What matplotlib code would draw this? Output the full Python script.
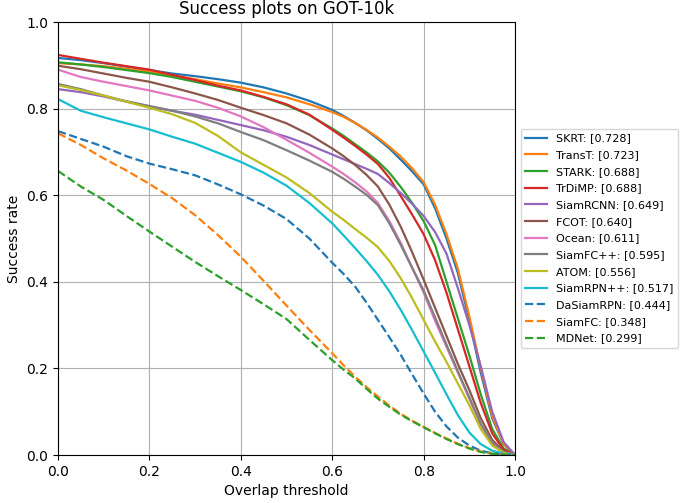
import numpy as np
import matplotlib
matplotlib.use("Agg")
import matplotlib.pyplot as plt

# ---- overlap thresholds (finer steps in the steep tail) ----
thresholds = [0.0, 0.05, 0.1, 0.15, 0.2, 0.25, 0.3, 0.35, 0.4, 0.45, 0.5, 0.55,
              0.6, 0.625, 0.65, 0.675, 0.7, 0.725, 0.75, 0.775, 0.8, 0.825, 0.85,
              0.875, 0.9, 0.925, 0.95, 0.975, 1.0]

# ---- success rates ----
skrt = [0.917, 0.912, 0.905, 0.897, 0.889, 0.881, 0.875, 0.868, 0.860, 0.849, 0.835, 0.818,
        0.797, 0.783, 0.767, 0.750, 0.730, 0.708, 0.682, 0.655, 0.625, 0.570, 0.500,
        0.420, 0.310, 0.190, 0.085, 0.025, 0.0]
transt = [0.905, 0.902, 0.898, 0.892, 0.886, 0.877, 0.868, 0.858, 0.849, 0.838, 0.826, 0.810,
          0.792, 0.781, 0.767, 0.751, 0.733, 0.712, 0.689, 0.662, 0.630, 0.578, 0.510,
          0.430, 0.320, 0.200, 0.090, 0.025, 0.0]
stark = [0.907, 0.902, 0.896, 0.889, 0.882, 0.873, 0.862, 0.851, 0.840, 0.826, 0.808, 0.785,
         0.754, 0.737, 0.718, 0.699, 0.678, 0.652, 0.619, 0.582, 0.540, 0.485, 0.400,
         0.315, 0.230, 0.140, 0.060, 0.015, 0.0]
trdimp = [0.924, 0.915, 0.906, 0.898, 0.890, 0.878, 0.866, 0.853, 0.842, 0.827, 0.810, 0.786,
          0.751, 0.733, 0.714, 0.694, 0.672, 0.640, 0.598, 0.555, 0.510, 0.450, 0.375,
          0.290, 0.205, 0.120, 0.050, 0.012, 0.0]
siamrcnn = [0.845, 0.838, 0.828, 0.816, 0.805, 0.795, 0.786, 0.774, 0.762, 0.750, 0.735, 0.716,
            0.694, 0.683, 0.672, 0.661, 0.649, 0.628, 0.605, 0.580, 0.552, 0.515, 0.465,
            0.385, 0.300, 0.205, 0.100, 0.030, 0.0]
fcot = [0.899, 0.891, 0.881, 0.871, 0.862, 0.849, 0.835, 0.820, 0.802, 0.785, 0.766, 0.740,
        0.708, 0.690, 0.670, 0.647, 0.620, 0.578, 0.527, 0.468, 0.405, 0.340, 0.275,
        0.210, 0.150, 0.085, 0.035, 0.008, 0.0]
ocean = [0.890, 0.873, 0.862, 0.852, 0.842, 0.830, 0.818, 0.802, 0.782, 0.757, 0.728, 0.698,
         0.666, 0.649, 0.630, 0.609, 0.582, 0.540, 0.490, 0.432, 0.375, 0.310, 0.250,
         0.190, 0.130, 0.070, 0.028, 0.006, 0.0]
siamfcpp = [0.857, 0.845, 0.830, 0.817, 0.806, 0.795, 0.782, 0.766, 0.746, 0.727, 0.704, 0.680,
            0.654, 0.638, 0.620, 0.601, 0.577, 0.535, 0.485, 0.432, 0.380, 0.318, 0.255,
            0.193, 0.133, 0.072, 0.028, 0.006, 0.0]
atom = [0.854, 0.843, 0.830, 0.816, 0.802, 0.787, 0.767, 0.737, 0.699, 0.670, 0.641, 0.605,
        0.562, 0.543, 0.522, 0.502, 0.480, 0.448, 0.408, 0.362, 0.312, 0.262, 0.215,
        0.165, 0.115, 0.060, 0.022, 0.005, 0.0]
siamrpnpp = [0.822, 0.795, 0.780, 0.766, 0.752, 0.735, 0.719, 0.698, 0.677, 0.652, 0.622, 0.582,
             0.535, 0.507, 0.478, 0.448, 0.416, 0.378, 0.335, 0.288, 0.239, 0.190, 0.140,
             0.092, 0.052, 0.025, 0.010, 0.003, 0.0]
dasiamrpn = [0.748, 0.730, 0.712, 0.690, 0.673, 0.660, 0.646, 0.625, 0.602, 0.576, 0.545, 0.500,
             0.444, 0.418, 0.389, 0.352, 0.312, 0.272, 0.231, 0.186, 0.142, 0.100, 0.066,
             0.040, 0.022, 0.010, 0.004, 0.001, 0.0]
siamfc = [0.743, 0.716, 0.685, 0.657, 0.626, 0.593, 0.554, 0.508, 0.458, 0.402, 0.345, 0.289,
          0.235, 0.207, 0.181, 0.157, 0.135, 0.114, 0.095, 0.079, 0.065, 0.051, 0.038,
          0.026, 0.016, 0.008, 0.003, 0.001, 0.0]
mdnet = [0.656, 0.620, 0.589, 0.552, 0.516, 0.481, 0.446, 0.413, 0.381, 0.348, 0.314, 0.266,
         0.219, 0.197, 0.177, 0.153, 0.130, 0.111, 0.093, 0.078, 0.064, 0.050, 0.037,
         0.025, 0.015, 0.007, 0.003, 0.001, 0.0]

names = ["SKRT", "TransT", "STARK", "TrDiMP", "SiamRCNN", "FCOT", "Ocean",
         "SiamFC++", "ATOM", "SiamRPN++", "DaSiamRPN", "SiamFC", "MDNet"]
aucs = [0.728, 0.723, 0.688, 0.688, 0.649, 0.640, 0.611, 0.595, 0.556, 0.517,
        0.444, 0.348, 0.299]
curves = [skrt, transt, stark, trdimp, siamrcnn, fcot, ocean, siamfcpp, atom,
          siamrpnpp, dasiamrpn, siamfc, mdnet]

# ---- plot ----
fig = plt.figure(figsize=(6.85, 5.03), dpi=100)
ax = fig.add_axes([0.0847, 0.0954, 0.6672, 0.8608])
colors = plt.rcParams["axes.prop_cycle"].by_key()["color"]
for i, (name, auc, ys) in enumerate(zip(names, aucs, curves)):
    style = "--" if i >= 10 else "-"
    ax.plot(thresholds, ys, style, color=colors[i % 10], linewidth=1.6,
            label=f"{name}: [{auc:.3f}]")

ax.set_xlim(0, 1)
ax.set_ylim(0, 1)
ax.grid(True)
ax.set_title("Success plots on GOT-10k")
ax.set_xlabel("Overlap threshold")
ax.set_ylabel("Success rate")
ax.legend(loc="center left", bbox_to_anchor=(1, 0.5), fontsize=8,
          labelspacing=0.6)

fig.savefig("out.png", dpi=100)
